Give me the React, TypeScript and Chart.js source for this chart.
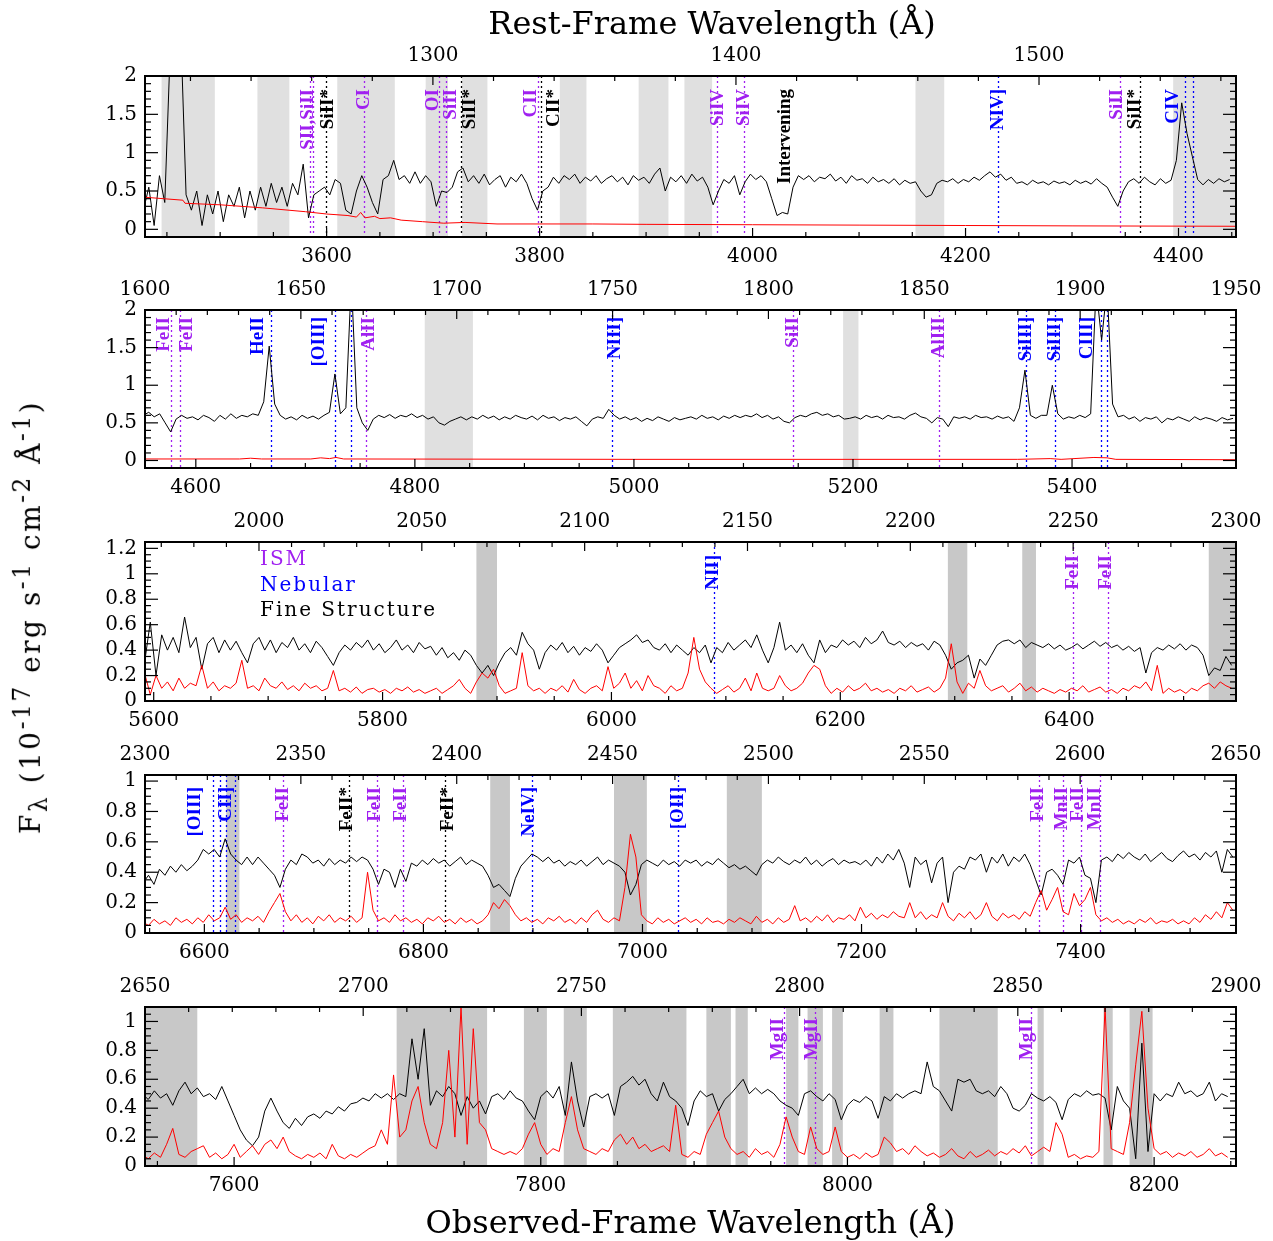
import React, { useEffect, useRef } from "react";
import { Chart, registerables } from "chart.js";

Chart.register(...registerables);

const ONE_PLUS_Z = 2.846;

// ---------------- Panel 1 ----------------
const p1Rest = [1205, 1565];
const p1ObsTicks = [3600, 3800, 4000, 4200, 4400];
const p1RestTicks = [1300, 1400, 1500];
const p1YTicks = [0, 0.5, 1, 1.5, 2];
const p1Start = 3428;
const p1Step = 5;
const p1Flux = [
  0.25, 0.55, 0.05, 0.7, 0.35, 2.3, 2.6, 2.6, 0.45, 0.25,
  0.5, 0.05, 0.45, 0.2, 0.5, 0.1, 0.45, 0.3, 0.55, 0.15,
  0.5, 0.25, 0.55, 0.3, 0.6, 0.35, 0.55, 0.3, 0.6, 0.45,
  0.85, 0.15, 0.45, 0.5, 0.55, 0.45, 0.65, 0.6, 0.25, 0.2,
  0.5, 0.7, 0.55, 0.35, 0.2, 0.65, 0.7, 0.9, 0.65, 0.7,
  0.6, 0.75, 0.6, 0.7, 0.62, 0.3, 0.5, 0.48, 0.55, 0.75,
  0.8, 0.62, 0.7, 0.6, 0.72, 0.58, 0.65, 0.7, 0.55, 0.68,
  0.62, 0.72, 0.6, 0.4, 0.25, 0.5, 0.55, 0.68, 0.6, 0.7,
  0.65, 0.72, 0.6, 0.68, 0.63, 0.7, 0.6, 0.66, 0.7, 0.62,
  0.68, 0.58, 0.7, 0.64, 0.68, 0.6, 0.72, 0.8, 0.5, 0.68,
  0.62, 0.7, 0.6, 0.72, 0.63, 0.68, 0.55, 0.32, 0.5, 0.65,
  0.6, 0.7, 0.45, 0.62, 0.72, 0.65, 0.7, 0.62, 0.4, 0.18,
  0.22, 0.2, 0.55, 0.7, 0.65, 0.7, 0.62, 0.68, 0.66, 0.72,
  0.63, 0.68, 0.6, 0.7, 0.64, 0.66, 0.6, 0.68, 0.62, 0.65,
  0.6, 0.66, 0.58, 0.64, 0.6, 0.62, 0.5, 0.42, 0.45, 0.6,
  0.64, 0.62, 0.66, 0.6, 0.65, 0.62, 0.68, 0.64, 0.7, 0.75,
  0.68, 0.72, 0.64, 0.68, 0.6, 0.62, 0.58, 0.64, 0.6, 0.62,
  0.58, 0.63, 0.6, 0.62, 0.58, 0.64, 0.6, 0.63, 0.59, 0.66,
  0.6, 0.55, 0.42, 0.3, 0.5, 0.62, 0.66, 0.6, 0.68, 0.62,
  0.58, 0.66, 0.6, 0.64, 0.9, 1.65, 1.25, 0.95, 0.65, 0.58,
  0.65, 0.6, 0.66, 0.62, 0.65,
];
const p1ErrWave = [3428, 3465, 3467, 3500, 3540, 3580, 3600, 3620, 3628, 3632, 3636, 3645, 3650, 3660, 3670, 3690, 3710, 3730, 3760, 3800, 3850, 3900, 4000, 4100, 4200, 4300, 4455];
const p1Err = [0.42, 0.38, 0.34, 0.32, 0.28, 0.23, 0.2, 0.18, 0.16, 0.22, 0.15, 0.17, 0.14, 0.15, 0.12, 0.1, 0.08, 0.09, 0.07, 0.07, 0.07, 0.065, 0.06, 0.055, 0.05, 0.045, 0.04];
const p1Bands = [[3445, 3495], [3535, 3565], [3610, 3664], [3693, 3714], [3727, 3751], [3819, 3844], [3893, 3921], [3936, 3962], [4153, 4180], [4395, 4455]];
const p1Lines = [
  [1259.52, "SII,SiII", "ism"], [1260.42, "", "ism"], [1264.74, "SiII*", "fine"], [1277.25, "CI", "ism"],
  [1302.17, "OI", "ism"], [1304.37, "SiII", "ism"], [1309.28, "SiII*", "fine"], [1334.53, "CII", "ism"],
  [1335.71, "CII*", "fine"], [1393.76, "SiIV", "ism"], [1402.77, "SiIV", "ism"], [1416.2, "Intervening", "note"],
  [1486.5, "NIV]", "neb"], [1526.71, "SiII", "ism"], [1533.43, "SiII*", "fine"], [1548.19, "CIV", "neb"], [1550.77, "", "neb"],
];
const p1Nudge = [-2, 0, 2, 0, -6, 5, 9, -6, 13, 1, 0, 0, 0, -3, -5, -12, 0];

// ---------------- Panel 2 ----------------
const p2Rest = [1600, 1950];
const p2ObsTicks = [4600, 4800, 5000, 5200, 5400];
const p2RestTicks = [1600, 1650, 1700, 1750, 1800, 1850, 1900, 1950];
const p2YTicks = [0, 0.5, 1, 1.5, 2];
const p2Start = 4552;
const p2Step = 5;
const p2Flux = [
  0.6, 0.64, 0.58, 0.62, 0.5, 0.38, 0.55, 0.6, 0.56, 0.58,
  0.54, 0.6, 0.57, 0.52, 0.6, 0.55, 0.62, 0.56, 0.6, 0.58,
  0.62, 0.6, 0.78, 1.52, 0.75, 0.6, 0.55, 0.58, 0.54, 0.6,
  0.56, 0.59, 0.55, 0.6, 0.64, 1.15, 0.62, 0.7, 2.4, 0.7,
  0.5, 0.4, 0.55, 0.6, 0.57, 0.61, 0.56, 0.6, 0.58, 0.62,
  0.57, 0.6, 0.55, 0.58, 0.5, 0.47, 0.52, 0.55, 0.58, 0.54,
  0.58, 0.55, 0.6, 0.56, 0.59, 0.54, 0.58, 0.55, 0.6, 0.57,
  0.55, 0.59, 0.54, 0.6, 0.56, 0.58, 0.53, 0.57, 0.55, 0.58,
  0.52, 0.46, 0.55, 0.58, 0.56, 0.68, 0.6, 0.55, 0.58, 0.54,
  0.57, 0.52, 0.56, 0.53, 0.58, 0.55, 0.52, 0.57, 0.54, 0.56,
  0.58, 0.55, 0.6, 0.56, 0.58, 0.54, 0.59, 0.56, 0.6, 0.57,
  0.6, 0.58, 0.62, 0.57, 0.6, 0.55, 0.58, 0.52, 0.5, 0.57,
  0.6, 0.58, 0.62, 0.64, 0.6, 0.62, 0.58, 0.6, 0.55, 0.56,
  0.58, 0.55, 0.6, 0.57, 0.59, 0.55, 0.6, 0.57, 0.58, 0.55,
  0.6, 0.63, 0.58, 0.56, 0.5, 0.57, 0.55, 0.45, 0.58, 0.56,
  0.58, 0.55, 0.6, 0.57, 0.58, 0.55, 0.59, 0.56, 0.58, 0.52,
  0.7, 1.2, 0.6, 0.56, 0.6, 0.6, 1.0, 0.62, 0.55, 0.58,
  0.56, 0.6, 0.57, 0.62, 2.3, 1.6, 2.3, 0.75, 0.58, 0.6,
  0.55, 0.58, 0.52, 0.57, 0.55, 0.58, 0.5, 0.56, 0.54, 0.58,
  0.55, 0.52, 0.58, 0.54, 0.57, 0.55, 0.52, 0.57, 0.54, 0.56,
];
const p2ErrWave = [4552, 4640, 4650, 4660, 4705, 4714, 4722, 4728, 4735, 5000, 5350, 5380, 5390, 5420, 5432, 5440, 5550];
const p2Err = [0.02, 0.02, 0.03, 0.02, 0.02, 0.035, 0.025, 0.04, 0.02, 0.015, 0.015, 0.025, 0.015, 0.04, 0.035, 0.015, 0.01];
const p2Bands = [[4809, 4853], [5191, 5205]];
const p2Lines = [
  [1608.45, "FeII", "ism"], [1611.2, "FeII", "ism"], [1640.42, "HeII", "neb"], [1660.81, "[OIII]", "neb"],
  [1666.15, "", "neb"], [1670.79, "AlII", "ism"], [1749.7, "NIII]", "neb"], [1808.01, "SiII", "ism"],
  [1854.72, "AlIII", "ism"], [1882.71, "SiIII]", "neb"], [1892.03, "SiIII]", "neb"], [1906.68, "CIII]", "neb"], [1908.73, "", "neb"],
];
const p2Nudge = [-7, 7, -13, -15, 0, 3, 3, 0, 0, 0, 0, -14, 0];

// ---------------- Panel 3 ----------------
const p3Rest = [1965, 2300];
const p3ObsTicks = [5600, 5800, 6000, 6200, 6400];
const p3RestTicks = [2000, 2050, 2100, 2150, 2200, 2250, 2300];
const p3YTicks = [0, 0.2, 0.4, 0.6, 0.8, 1, 1.2];
const p3Start = 5592;
const p3Step = 5;
const p3Flux = [
  0.3, 0.62, 0.2, 0.52, 0.4, 0.5, 0.38, 0.66, 0.42, 0.5,
  0.25, 0.45, 0.5, 0.38, 0.48, 0.4, 0.47, 0.38, 0.3, 0.45,
  0.5, 0.4, 0.48, 0.38, 0.46, 0.42, 0.5, 0.4, 0.45, 0.38,
  0.47, 0.42, 0.35, 0.28, 0.38, 0.44, 0.4, 0.46, 0.42, 0.48,
  0.4, 0.45, 0.38, 0.42, 0.48, 0.4, 0.44, 0.38, 0.46, 0.41,
  0.43, 0.36, 0.42, 0.34, 0.38, 0.32, 0.4, 0.36, 0.28, 0.22,
  0.28, 0.2, 0.3, 0.38, 0.42, 0.36, 0.54, 0.45, 0.4, 0.25,
  0.38, 0.44, 0.4, 0.46, 0.38, 0.43, 0.36, 0.42, 0.39, 0.45,
  0.4, 0.3, 0.36, 0.42, 0.45, 0.48, 0.52, 0.46, 0.48, 0.42,
  0.4, 0.45, 0.38, 0.44, 0.4, 0.36, 0.42, 0.38, 0.44, 0.3,
  0.42, 0.38, 0.46, 0.4, 0.44, 0.48, 0.42, 0.52, 0.4, 0.3,
  0.42, 0.62, 0.4, 0.44, 0.38, 0.45, 0.36, 0.3, 0.48, 0.38,
  0.44, 0.42, 0.48, 0.44, 0.47, 0.42, 0.5, 0.45, 0.48, 0.55,
  0.46, 0.44, 0.47, 0.42, 0.46, 0.43, 0.45, 0.4, 0.47, 0.44,
  0.36, 0.25, 0.3, 0.32, 0.36, 0.18, 0.33, 0.28, 0.36, 0.44,
  0.47, 0.48, 0.45, 0.48, 0.42, 0.46, 0.44, 0.42, 0.45, 0.41,
  0.44, 0.4, 0.42, 0.45, 0.41, 0.44, 0.47, 0.43, 0.46, 0.42,
  0.44, 0.4, 0.43, 0.39, 0.42, 0.22, 0.38, 0.42, 0.4, 0.44,
  0.41, 0.45, 0.4, 0.44, 0.42, 0.36, 0.2, 0.26, 0.24, 0.35,
  0.28,
];
const p3Err = [
  0.22, 0.05, 0.2, 0.1, 0.15, 0.08, 0.18, 0.1, 0.14, 0.12,
  0.28, 0.1, 0.15, 0.08, 0.12, 0.1, 0.14, 0.32, 0.1, 0.12,
  0.08, 0.18, 0.12, 0.1, 0.15, 0.09, 0.12, 0.08, 0.14, 0.1,
  0.12, 0.08, 0.1, 0.24, 0.08, 0.1, 0.07, 0.11, 0.06, 0.09,
  0.1, 0.07, 0.09, 0.06, 0.1, 0.08, 0.11, 0.07, 0.09, 0.06,
  0.08, 0.1, 0.06, 0.09, 0.12, 0.17, 0.1, 0.06, 0.15, 0.22,
  0.18, 0.25, 0.12, 0.06, 0.08, 0.1, 0.38, 0.12, 0.08, 0.1,
  0.06, 0.1, 0.08, 0.12, 0.07, 0.17, 0.09, 0.06, 0.1, 0.12,
  0.08, 0.27, 0.1, 0.14, 0.22, 0.1, 0.16, 0.08, 0.2, 0.12,
  0.1, 0.06, 0.12, 0.08, 0.1, 0.22, 0.5, 0.25, 0.15, 0.1,
  0.06, 0.09, 0.12, 0.07, 0.1, 0.18, 0.08, 0.22, 0.1, 0.08,
  0.1, 0.2, 0.12, 0.08, 0.1, 0.14, 0.22, 0.28, 0.25, 0.12,
  0.06, 0.1, 0.07, 0.12, 0.08, 0.1, 0.14, 0.08, 0.1, 0.07,
  0.09, 0.06, 0.1, 0.08, 0.12, 0.07, 0.09, 0.11, 0.07, 0.1,
  0.18, 0.45, 0.15, 0.06, 0.14, 0.1, 0.24, 0.12, 0.08, 0.1,
  0.12, 0.07, 0.1, 0.14, 0.08, 0.11, 0.07, 0.1, 0.08, 0.06,
  0.09, 0.07, 0.1, 0.08, 0.12, 0.07, 0.09, 0.11, 0.07, 0.09,
  0.06, 0.1, 0.08, 0.12, 0.1, 0.15, 0.08, 0.28, 0.06, 0.1,
  0.07, 0.09, 0.06, 0.1, 0.08, 0.12, 0.14, 0.1, 0.15, 0.12,
  0.1,
];
const p3Bands = [[5882, 5900], [6294, 6311], [6359, 6371], [6522, 6546]];
const p3Lines = [[2139.68, "NII]", "neb"], [2249.88, "FeII", "ism"], [2260.78, "FeII", "ism"]];
const p3Nudge = [-1, 0, -2];
const legendItems = [["ISM", "ism"], ["Nebular", "neb"], ["Fine Structure", "fine"]];

// ---------------- Panel 4 ----------------
const p4Rest = [2300, 2650];
const p4ObsTicks = [6600, 6800, 7000, 7200, 7400];
const p4RestTicks = [2300, 2350, 2400, 2450, 2500, 2550, 2600, 2650];
const p4YTicks = [0, 0.2, 0.4, 0.6, 0.8, 1];
const p4Start = 6544;
const p4Step = 5;
const p4Flux = [
  0.33, 0.38, 0.32, 0.42, 0.38, 0.44, 0.4, 0.45, 0.41, 0.44,
  0.48, 0.55, 0.52, 0.55, 0.5, 0.62, 0.52, 0.48, 0.45, 0.5,
  0.45, 0.5, 0.46, 0.42, 0.38, 0.3, 0.42, 0.48, 0.45, 0.52,
  0.5, 0.46, 0.48, 0.44, 0.49, 0.45, 0.48, 0.46, 0.5, 0.47,
  0.5, 0.48, 0.42, 0.32, 0.42, 0.4, 0.3, 0.42, 0.34, 0.46,
  0.44, 0.48, 0.45, 0.49, 0.46, 0.48, 0.44, 0.47, 0.5, 0.45,
  0.48, 0.46, 0.44, 0.38, 0.3, 0.32, 0.28, 0.24, 0.36, 0.44,
  0.48, 0.52, 0.5, 0.47, 0.5, 0.46, 0.48, 0.44, 0.47, 0.45,
  0.48, 0.44, 0.47, 0.5, 0.45, 0.48, 0.46, 0.44, 0.4, 0.25,
  0.32, 0.45, 0.48, 0.46, 0.44, 0.48, 0.45, 0.47, 0.44, 0.48,
  0.46, 0.48, 0.44, 0.47, 0.45, 0.49, 0.46, 0.43, 0.45, 0.42,
  0.44, 0.41, 0.38, 0.45, 0.48, 0.46, 0.5, 0.47, 0.45, 0.48,
  0.46, 0.5, 0.45, 0.48, 0.44, 0.47, 0.49, 0.45, 0.48, 0.46,
  0.47, 0.45, 0.48, 0.44, 0.5, 0.46, 0.52, 0.48, 0.55, 0.46,
  0.3, 0.5, 0.45, 0.48, 0.33, 0.46, 0.5, 0.2, 0.4, 0.44,
  0.42, 0.5, 0.48, 0.52, 0.4, 0.5, 0.46, 0.52, 0.44, 0.5,
  0.47, 0.52, 0.45, 0.35, 0.25, 0.4, 0.42, 0.38, 0.32, 0.48,
  0.46, 0.5, 0.38, 0.36, 0.2, 0.48, 0.5, 0.47, 0.52, 0.49,
  0.53, 0.5, 0.48, 0.52, 0.47, 0.5, 0.53, 0.49, 0.47, 0.51,
  0.54, 0.5, 0.52, 0.48, 0.53, 0.5, 0.54, 0.4, 0.55, 0.5,
];
const p4Err = [
  0.07, 0.05, 0.09, 0.06, 0.08, 0.05, 0.1, 0.07, 0.09, 0.06,
  0.1, 0.07, 0.12, 0.08, 0.1, 0.17, 0.09, 0.12, 0.07, 0.1,
  0.08, 0.11, 0.07, 0.14, 0.2, 0.26, 0.14, 0.08, 0.12, 0.07,
  0.1, 0.06, 0.11, 0.08, 0.12, 0.07, 0.1, 0.08, 0.11, 0.07,
  0.1, 0.4, 0.15, 0.08, 0.1, 0.07, 0.12, 0.08, 0.1, 0.07,
  0.09, 0.06, 0.1, 0.08, 0.11, 0.07, 0.09, 0.06, 0.1, 0.07,
  0.09, 0.06, 0.08, 0.12, 0.2, 0.16, 0.22, 0.18, 0.12, 0.08,
  0.1, 0.07, 0.09, 0.06, 0.1, 0.08, 0.11, 0.07, 0.09, 0.06,
  0.1, 0.07, 0.12, 0.15, 0.09, 0.07, 0.1, 0.08, 0.3, 0.65,
  0.5, 0.12, 0.08, 0.06, 0.1, 0.07, 0.09, 0.06, 0.08, 0.1,
  0.07, 0.09, 0.06, 0.1, 0.07, 0.08, 0.06, 0.09, 0.07, 0.1,
  0.08, 0.06, 0.11, 0.07, 0.09, 0.06, 0.1, 0.07, 0.09, 0.18,
  0.08, 0.1, 0.07, 0.11, 0.08, 0.12, 0.07, 0.1, 0.09, 0.12,
  0.08, 0.17, 0.1, 0.13, 0.09, 0.12, 0.1, 0.14, 0.11, 0.1,
  0.2, 0.1, 0.14, 0.09, 0.12, 0.1, 0.2, 0.11, 0.08, 0.13,
  0.1, 0.14, 0.09, 0.12, 0.2, 0.11, 0.08, 0.13, 0.1, 0.12,
  0.09, 0.14, 0.11, 0.2, 0.28, 0.15, 0.22, 0.3, 0.14, 0.12,
  0.26, 0.18, 0.22, 0.3, 0.12, 0.08, 0.1, 0.07, 0.09, 0.06,
  0.08, 0.06, 0.09, 0.07, 0.1, 0.06, 0.08, 0.07, 0.09, 0.06,
  0.08, 0.06, 0.1, 0.07, 0.12, 0.09, 0.14, 0.1, 0.2, 0.15,
];
const p4Bands = [[6620, 6632], [6861, 6879], [6974, 7004], [7077, 7109]];
const p4Lines = [
  [2321.66, "[OIII]", "neb"], [2324.21, "", "neb"], [2326.11, "CII]", "neb"], [2328.83, "", "neb"],
  [2344.21, "FeII", "ism"], [2365.55, "FeII*", "fine"], [2374.46, "FeII", "ism"], [2382.77, "FeII", "ism"],
  [2396.36, "FeII*", "fine"], [2424.3, "NeIV]", "neb"], [2470.97, "[OII]", "neb"], [2586.65, "FeII", "ism"],
  [2594.5, "MnII", "ism"], [2600.17, "FeII", "ism"], [2606.46, "MnII", "ism"],
];
const p4Nudge = [-17, 0, 0, 0, 0, -2, -2, -2, 3, -3, 0, 0, -1, -3, -5];

// ---------------- Panel 5 ----------------
const p5Rest = [2650, 2900];
const p5ObsTicks = [7600, 7800, 8000, 8200];
const p5RestTicks = [2650, 2700, 2750, 2800, 2850, 2900];
const p5YTicks = [0, 0.2, 0.4, 0.6, 0.8, 1];
const p5Start = 7540;
const p5Step = 4;
const p5Flux = [
  0.5, 0.46, 0.52, 0.47, 0.5, 0.42, 0.52, 0.58, 0.5, 0.54,
  0.48, 0.5, 0.46, 0.55, 0.45, 0.35, 0.25, 0.18, 0.14, 0.2,
  0.38, 0.47, 0.38, 0.3, 0.26, 0.33, 0.28, 0.34, 0.36, 0.33,
  0.38, 0.36, 0.41, 0.38, 0.43, 0.44, 0.47, 0.45, 0.5, 0.47,
  0.5, 0.46, 0.5, 0.48, 0.88, 0.6, 0.95, 0.42, 0.52, 0.48,
  0.55, 0.5, 0.35, 0.48, 0.4, 0.45, 0.36, 0.48, 0.5, 0.46,
  0.52, 0.47, 0.45, 0.38, 0.32, 0.48, 0.52, 0.47, 0.55, 0.35,
  0.72, 0.45, 0.27, 0.48, 0.5, 0.47, 0.5, 0.35, 0.55, 0.58,
  0.62, 0.56, 0.6, 0.5, 0.45, 0.58, 0.48, 0.45, 0.4, 0.28,
  0.45, 0.52, 0.48, 0.5, 0.38, 0.46, 0.5, 0.55, 0.6, 0.5,
  0.54, 0.5, 0.53, 0.5, 0.45, 0.42, 0.4, 0.35, 0.5, 0.52,
  0.48, 0.45, 0.5, 0.46, 0.32, 0.42, 0.46, 0.44, 0.48, 0.45,
  0.33, 0.48, 0.45, 0.5, 0.47, 0.5, 0.52, 0.5, 0.72, 0.55,
  0.52, 0.45, 0.38, 0.6, 0.58, 0.6, 0.52, 0.5, 0.52, 0.48,
  0.55, 0.5, 0.4, 0.38, 0.42, 0.5, 0.47, 0.45, 0.48, 0.44,
  0.32, 0.46, 0.5, 0.48, 0.52, 0.49, 0.5, 0.47, 0.25, 0.55,
  0.45, 0.4, 0.05, 0.85, 0.1, 0.5, 0.45, 0.5, 0.48, 0.58,
  0.5, 0.52, 0.48, 0.5, 0.58, 0.45, 0.5, 0.48,
];
const p5Err = [
  0.08, 0.05, 0.09, 0.06, 0.15, 0.26, 0.08, 0.06, 0.1, 0.12,
  0.14, 0.06, 0.09, 0.05, 0.08, 0.15, 0.06, 0.1, 0.14, 0.08,
  0.15, 0.18, 0.12, 0.2, 0.1, 0.07, 0.05, 0.08, 0.06, 0.09,
  0.05, 0.15, 0.07, 0.05, 0.08, 0.06, 0.09, 0.12, 0.14, 0.25,
  0.15, 0.63, 0.2, 0.25, 0.45, 0.55, 0.3, 0.15, 0.12, 0.3,
  0.8, 0.2, 1.1, 0.15, 0.95, 0.3, 0.25, 0.12, 0.1, 0.08,
  0.1, 0.08, 0.12, 0.22, 0.3, 0.15, 0.08, 0.12, 0.1, 0.3,
  0.48, 0.25, 0.12, 0.1, 0.08, 0.12, 0.1, 0.18, 0.22, 0.15,
  0.2, 0.12, 0.15, 0.1, 0.12, 0.14, 0.1, 0.42, 0.08, 0.06,
  0.1, 0.08, 0.22, 0.3, 0.38, 0.2, 0.12, 0.08, 0.1, 0.06,
  0.12, 0.08, 0.1, 0.06, 0.15, 0.34, 0.2, 0.1, 0.08, 0.27,
  0.12, 0.08, 0.1, 0.27, 0.1, 0.06, 0.08, 0.05, 0.09, 0.06,
  0.08, 0.2, 0.16, 0.1, 0.12, 0.08, 0.14, 0.1, 0.07, 0.09,
  0.06, 0.08, 0.12, 0.07, 0.05, 0.1, 0.06, 0.08, 0.11, 0.07,
  0.1, 0.08, 0.12, 0.09, 0.14, 0.07, 0.1, 0.13, 0.1, 0.3,
  0.22, 0.06, 0.08, 0.05, 0.07, 0.06, 0.1, 1.1, 0.12, 0.1,
  0.08, 0.3, 0.7, 1.07, 0.4, 0.12, 0.08, 0.1, 0.06, 0.09,
  0.07, 0.1, 0.06, 0.08, 0.12, 0.07, 0.09, 0.06,
];
const p5Bands = [[7535, 7576], [7706, 7765], [7789, 7804], [7815, 7830], [7847, 7895], [7908, 7924], [7927, 7935], [7960, 7968], [7974, 7984], [7990, 7997], [8021, 8030], [8060, 8098], [8124, 8128], [8167, 8173], [8184, 8199]];
const p5Lines = [[2796.35, "MgII", "ism"], [2803.53, "MgII", "ism"], [2852.96, "MgII", "ism"]];
const p5Nudge = [-6, -3, -4];

// ---------------- colours / layout ----------------
const KIND_COLOR: Record<string, string> = { ism: "#a020f0", neb: "#0000ff", fine: "#000000", note: "#000000" };
const SERIF = "'DejaVu Serif', serif";
const PLOT_LEFT = 145;
const PLOT_RIGHT = 1236;
const W = 1273;

const panels = [
  { rest: p1Rest, obsTicks: p1ObsTicks, restTicks: p1RestTicks, yTicks: p1YTicks, y: [-0.1, 2.0], yMinor: 0.1, restMinor: 20,
    start: p1Start, step: p1Step, flux: p1Flux, errWave: p1ErrWave, err: p1Err, bands: p1Bands, lines: p1Lines, nudge: p1Nudge,
    bandColor: "#e0e0e0", top: 76, bottom: 237, topH: 76, botH: 35, labelTop: 13, title: "Rest-Frame Wavelength (Å)" },
  { rest: p2Rest, obsTicks: p2ObsTicks, restTicks: p2RestTicks, yTicks: p2YTicks, y: [-0.1, 2.0], yMinor: 0.1, restMinor: 10,
    start: p2Start, step: p2Step, flux: p2Flux, errWave: p2ErrWave, err: p2Err, bands: p2Bands, lines: p2Lines, nudge: p2Nudge,
    bandColor: "#e0e0e0", top: 310, bottom: 468, topH: 35, botH: 35, labelTop: 7 },
  { rest: p3Rest, obsTicks: p3ObsTicks, restTicks: p3RestTicks, yTicks: p3YTicks, y: [0, 1.25], yMinor: 0.05, restMinor: 10,
    start: p3Start, step: p3Step, flux: p3Flux, err: p3Err, bands: p3Bands, lines: p3Lines, nudge: p3Nudge,
    bandColor: "#c8c8c8", top: 542, bottom: 701, topH: 35, botH: 35, labelTop: 13, legend: legendItems },
  { rest: p4Rest, obsTicks: p4ObsTicks, restTicks: p4RestTicks, yTicks: p4YTicks, y: [0, 1.04], yMinor: 0.05, restMinor: 10,
    start: p4Start, step: p4Step, flux: p4Flux, err: p4Err, bands: p4Bands, lines: p4Lines, nudge: p4Nudge,
    bandColor: "#c8c8c8", top: 775, bottom: 933, topH: 35, botH: 35, labelTop: 12 },
  { rest: p5Rest, obsTicks: p5ObsTicks, restTicks: p5RestTicks, yTicks: p5YTicks, y: [0, 1.1], yMinor: 0.05, restMinor: 10,
    start: p5Start, step: p5Step, flux: p5Flux, err: p5Err, bands: p5Bands, lines: p5Lines, nudge: p5Nudge,
    bandColor: "#c8c8c8", top: 1007, bottom: 1166, topH: 35, botH: 75, labelTop: 11, xTitle: "Observed-Frame Wavelength (Å)" },
];

function minorValues(min: number, max: number, step: number, majors: number[]) {
  const out: number[] = [];
  for (let k = Math.ceil(min / step - 1e-9); k * step <= max + 1e-9; k++) {
    const v = Math.round(k * step * 10000) / 10000;
    if (!majors.some((m) => Math.abs(m - v) < 1e-6)) out.push(v);
  }
  return out;
}

function makeDecor(spec: any) {
  return {
    id: "decor",
    beforeDatasetsDraw(chart: any) {
      const { ctx, chartArea: a, scales } = chart;
      const xs = scales.x;
      ctx.save();
      ctx.beginPath();
      ctx.rect(a.left, a.top, a.right - a.left, a.bottom - a.top);
      ctx.clip();
      ctx.fillStyle = spec.bandColor;
      for (const [b0, b1] of spec.bands) {
        const x0 = xs.getPixelForValue(b0);
        const x1 = xs.getPixelForValue(b1);
        ctx.fillRect(x0, a.top, x1 - x0, a.bottom - a.top);
      }
      ctx.setLineDash([2, 3]);
      ctx.lineWidth = 1.3;
      for (const [rest, , kind] of spec.lines) {
        if (kind === "note") continue;
        const x = Math.round(xs.getPixelForValue(rest * ONE_PLUS_Z)) + 0.5;
        ctx.strokeStyle = KIND_COLOR[kind];
        ctx.beginPath();
        ctx.moveTo(x, a.top);
        ctx.lineTo(x, a.bottom);
        ctx.stroke();
      }
      ctx.restore();
    },
    afterDatasetsDraw(chart: any) {
      const { ctx, chartArea: a, scales } = chart;
      const xs = scales.x;
      const xr = scales.x2;
      const ys = scales.y;
      ctx.save();
      // line identifications
      ctx.font = "bold 19px 'Liberation Serif', serif";
      ctx.textAlign = "right";
      ctx.textBaseline = "middle";
      spec.lines.forEach((ln: any, i: number) => {
        const [rest, label, kind] = ln;
        if (!label) return;
        const x = xs.getPixelForValue(rest * ONE_PLUS_Z) + (spec.nudge[i] || 0);
        ctx.save();
        ctx.translate(x, a.top + spec.labelTop);
        ctx.rotate(-Math.PI / 2);
        ctx.fillStyle = KIND_COLOR[kind];
        ctx.fillText(label, 0, 0);
        ctx.restore();
      });
      // legend
      if (spec.legend) {
        ctx.font = "20px " + SERIF;
        (ctx as any).letterSpacing = "2px";
        ctx.textAlign = "left";
        ctx.textBaseline = "middle";
        const offs = [18, 44, 69];
        spec.legend.forEach(([txt, kind]: any, i: number) => {
          ctx.fillStyle = KIND_COLOR[kind];
          ctx.fillText(txt, 260, a.top + offs[i]);
        });
        (ctx as any).letterSpacing = "0px";
      }
      // top title
      if (spec.title) {
        ctx.font = "32px " + SERIF;
        ctx.fillStyle = "#000";
        ctx.textAlign = "center";
        ctx.textBaseline = "middle";
        ctx.fillText(spec.title, 712, 26);
      }
      // frame
      ctx.strokeStyle = "#000";
      ctx.lineWidth = 2;
      ctx.strokeRect(a.left, a.top, a.right - a.left, a.bottom - a.top);
      // ticks
      ctx.lineWidth = 1.2;
      const seg = (x0: number, y0: number, x1: number, y1: number) => {
        ctx.beginPath();
        ctx.moveTo(x0, y0);
        ctx.lineTo(x1, y1);
        ctx.stroke();
      };
      const inX = (x: number) => x >= a.left - 0.5 && x <= a.right + 0.5;
      for (const v of spec.obsTicks) {
        const x = xs.getPixelForValue(v);
        if (inX(x)) seg(x, a.bottom, x, a.bottom - 9);
      }
      for (const v of minorValues(xs.min, xs.max, 50, spec.obsTicks)) {
        const x = xs.getPixelForValue(v);
        if (inX(x)) seg(x, a.bottom, x, a.bottom - 5);
      }
      for (const v of spec.restTicks) {
        const x = xr.getPixelForValue(v);
        if (inX(x)) seg(x, a.top, x, a.top + 9);
      }
      for (const v of minorValues(xr.min, xr.max, spec.restMinor, spec.restTicks)) {
        const x = xr.getPixelForValue(v);
        if (inX(x)) seg(x, a.top, x, a.top + 5);
      }
      for (const v of spec.yTicks) {
        const y = ys.getPixelForValue(v);
        seg(a.left, y, a.left + 13, y);
        seg(a.right, y, a.right - 13, y);
      }
      for (const v of minorValues(ys.min, ys.max, spec.yMinor, spec.yTicks)) {
        const y = ys.getPixelForValue(v);
        seg(a.left, y, a.left + 6, y);
        seg(a.right, y, a.right - 6, y);
      }
      ctx.restore();
    },
  };
}

function buildConfig(spec: any) {
  const black = spec.flux.map((v: number, i: number) => ({ x: spec.start + spec.step * i, y: v }));
  const red = spec.errWave
    ? spec.errWave.map((w: number, i: number) => ({ x: w, y: spec.err[i] }))
    : spec.err.map((v: number, i: number) => ({ x: spec.start + spec.step * i, y: v }));
  const tickFont = { family: SERIF, size: 20 };
  const fixX = (h: number) => (s: any) => {
    s.height = h;
    s.paddingLeft = 0;
    s.paddingRight = 0;
  };
  const xTicks = { font: tickFont, color: "#000", padding: 8, autoSkip: false, maxRotation: 0, minRotation: 0, callback: (v: any) => String(v) };
  return {
    type: "line",
    data: {
      datasets: [
        { label: "Flux", data: black, borderColor: "#000000", borderWidth: 1, pointRadius: 0, order: 2, tension: 0, fill: false },
        { label: "Error", data: red, borderColor: "#ff0000", borderWidth: 1, pointRadius: 0, order: 1, tension: 0, fill: false },
      ],
    },
    options: {
      animation: false,
      responsive: false,
      devicePixelRatio: 1,
      events: [],
      layout: { padding: { left: 0, right: W - PLOT_RIGHT, top: 0, bottom: 0 } },
      plugins: { legend: { display: false }, tooltip: { enabled: false }, title: { display: false } },
      scales: {
        x: {
          type: "linear",
          position: "bottom",
          min: spec.rest[0] * ONE_PLUS_Z,
          max: spec.rest[1] * ONE_PLUS_Z,
          grid: { display: false, drawTicks: false },
          border: { display: false },
          ticks: xTicks,
          afterBuildTicks: (s: any) => {
            s.ticks = spec.obsTicks.map((v: number) => ({ value: v }));
          },
          afterFit: fixX(spec.botH),
          title: spec.xTitle
            ? { display: true, text: spec.xTitle, color: "#000", font: { family: SERIF, size: 32, lineHeight: 1 }, padding: { top: 0, bottom: 0 } }
            : { display: false },
        },
        x2: {
          type: "linear",
          position: "top",
          min: spec.rest[0],
          max: spec.rest[1],
          grid: { display: false, drawTicks: false },
          border: { display: false },
          ticks: xTicks,
          afterBuildTicks: (s: any) => {
            s.ticks = spec.restTicks.map((v: number) => ({ value: v }));
          },
          afterFit: fixX(spec.topH),
        },
        y: {
          type: "linear",
          position: "left",
          min: spec.y[0],
          max: spec.y[1],
          grid: { display: false, drawTicks: false },
          border: { display: false },
          ticks: { font: tickFont, color: "#000", padding: 8, autoSkip: false, callback: (v: any) => String(v) },
          afterBuildTicks: (s: any) => {
            s.ticks = spec.yTicks.map((v: number) => ({ value: v }));
          },
          afterFit: (s: any) => {
            s.width = PLOT_LEFT;
            s.paddingTop = 0;
            s.paddingBottom = 0;
          },
        },
      },
    },
    plugins: [makeDecor(spec)],
  };
}

function Panel({ spec }: { spec: any }) {
  const ref = useRef<HTMLCanvasElement>(null);
  const h = spec.topH + (spec.bottom - spec.top) + spec.botH;
  useEffect(() => {
    const chart = new Chart(ref.current as HTMLCanvasElement, buildConfig(spec) as any);
    return () => chart.destroy();
  }, [spec]);
  return (
    <canvas
      ref={ref}
      width={W}
      height={h}
      style={{ position: "absolute", left: 0, top: spec.top - spec.topH, width: W, height: h, display: "block" }}
    />
  );
}

export default function App() {
  return (
    <div style={{ position: "absolute", left: 0, top: 0, width: W, height: 1241, background: "#fff", overflow: "hidden" }}>
      {panels.map((p, i) => (
        <Panel key={i} spec={p} />
      ))}
      <div
        style={{
          position: "absolute",
          left: 31,
          top: 617,
          transform: "translate(-50%, -50%) rotate(-90deg)",
          whiteSpace: "nowrap",
          fontFamily: SERIF,
          fontSize: 28,
          letterSpacing: "2.5px",
          lineHeight: 1,
          color: "#000",
        }}
      >
        F<sub>λ</sub> (10<sup>-17</sup> erg s<sup>-1</sup> cm<sup>-2</sup> Å<sup>-1</sup>)
      </div>
    </div>
  );
}
